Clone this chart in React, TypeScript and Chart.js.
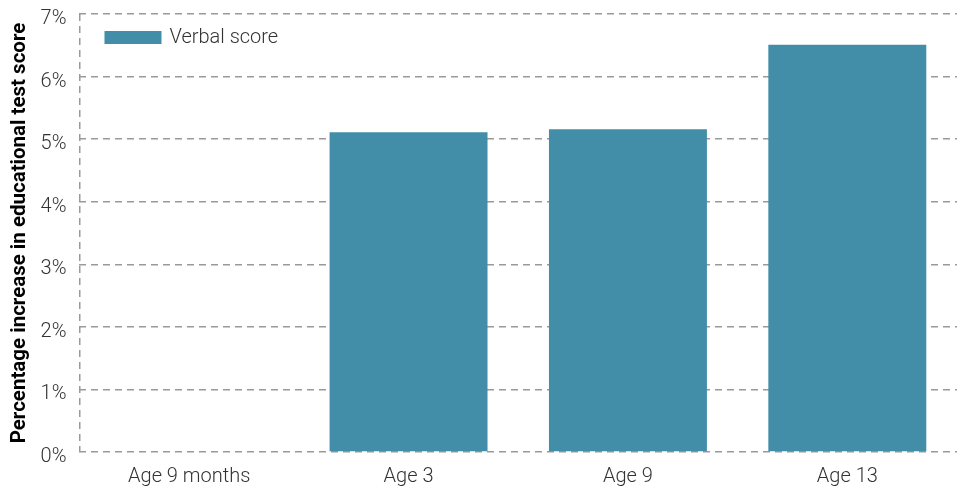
import React, { useEffect, useRef } from "react";
import { Chart, registerables } from "chart.js";

Chart.register(...registerables);

const categories = ["Age 9 months", "Age 3", "Age 9", "Age 13"];
const verbalScore = [0, 5.11, 5.16, 6.51];
const seriesLabel = "Verbal score";
const yTitle = "Percentage increase in educational test score";

const BAR = "#428ea8";
const GRID = "#9a9a9a";
const TEXT = "#333333";
const FONT = "Roboto";

const insideLegend = {
  id: "insideLegend",
  afterDatasetsDraw(chart: any) {
    const { ctx, chartArea } = chart;
    const ds = chart.data.datasets[0];
    const x = chartArea.left + 25;
    const y = chartArea.top + 17;
    ctx.save();
    ctx.fillStyle = ds.backgroundColor;
    ctx.fillRect(x, y, 57, 13);
    ctx.fillStyle = TEXT;
    ctx.font = "300 20px " + FONT;
    ctx.textBaseline = "middle";
    ctx.textAlign = "left";
    ctx.fillText(ds.label, x + 65, y + 7);
    ctx.restore();
  },
};

export default function App() {
  const ref = useRef<HTMLCanvasElement>(null);
  useEffect(() => {
    document.body.style.margin = "0";
    const chart = new Chart(ref.current!, {
      type: "bar",
      data: {
        labels: categories,
        datasets: [
          {
            label: seriesLabel,
            data: verbalScore,
            backgroundColor: BAR,
            barPercentage: 0.72,
            categoryPercentage: 1,
          },
        ],
      },
      options: {
        animation: false,
        responsive: true,
        maintainAspectRatio: false,
        layout: { padding: { top: 0, right: 0, left: 8, bottom: -16 } },
        plugins: {
          legend: { display: false },
          tooltip: { enabled: false },
        },
        scales: {
          x: {
            grid: {
              offset: true,
              drawTicks: false,
              color: (c: any) =>
                c.index === 0 || c.index === categories.length ? GRID : "rgba(0,0,0,0)",
              lineWidth: 1.5,
            },
            border: { display: false, dash: [7, 5] },
            ticks: {
              color: TEXT,
              padding: 13,
              font: { family: FONT, size: 20, weight: "300" as any },
            },
          },
          y: {
            min: 0,
            max: 7,
            afterFit: (s: any) => {
              s.paddingTop = 14;
            },
            grid: { drawTicks: false, color: GRID, lineWidth: 1.5 },
            border: { display: false, dash: [7, 5] },
            ticks: {
              stepSize: 1,
              color: TEXT,
              padding: 13,
              labelOffset: 5,
              font: { family: FONT, size: 20, weight: "300" as any },
              callback: (v: any) => v + "%",
            },
            title: {
              display: true,
              text: yTitle,
              color: "#000",
              padding: { top: 0, bottom: -5 },
              font: { family: FONT, size: 20.5, weight: "bold" },
            },
          },
        },
      },
      plugins: [insideLegend],
    });
    return () => chart.destroy();
  }, []);
  return (
    <div style={{ position: "absolute", left: 0, top: 0, width: 957, height: 486 }}>
      <canvas ref={ref} />
    </div>
  );
}
